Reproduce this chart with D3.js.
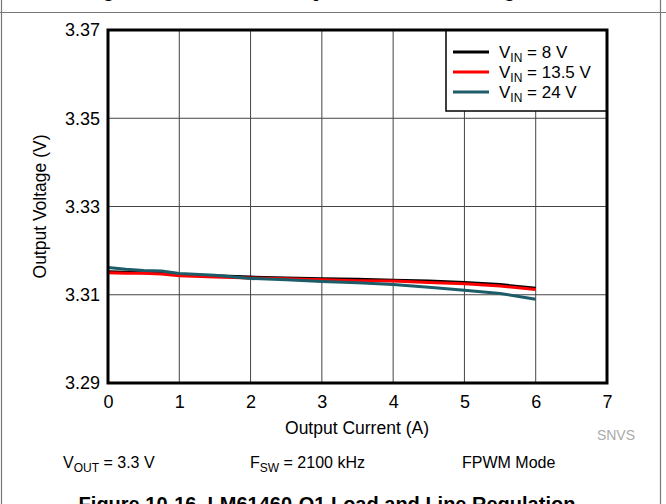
<!DOCTYPE html>
<html><head><meta charset="utf-8">
<script src="https://cdn.jsdelivr.net/npm/d3@7/dist/d3.min.js"></script>
<style>
body{margin:0;background:#fff;}
svg text{font-family:"Liberation Sans",Arial,Helvetica,sans-serif;}
</style></head>
<body><svg id="c" width="666" height="504"></svg>
<script>
const current = [0, 0.25, 0.5, 0.75, 1, 1.5, 2, 2.5, 3, 3.5, 4, 4.5, 5, 5.5, 6];
const vin8   = [3.3152,3.3151,3.3150,3.3149,3.3145,3.3143,3.3140,3.3138,3.3136,3.3135,3.3133,3.3131,3.3128,3.3123,3.3115];
const vin135 = [3.3150,3.3149,3.3149,3.3147,3.3143,3.3140,3.3138,3.3136,3.3134,3.3132,3.3131,3.3128,3.3125,3.3120,3.3112];
const vin24  = [3.3162,3.3158,3.3155,3.3154,3.3148,3.3144,3.3137,3.3134,3.3130,3.3127,3.3123,3.3117,3.3110,3.3103,3.3090];
const seriesNames = ["8 V", "13.5 V", "24 V"];
const seriesColors = ["#000000", "#ff0000", "#1d5c69"];
const xTicks = [0,1,2,3,4,5,6,7];
const yTicks = [3.29,3.31,3.33,3.35,3.37];

const svg = d3.select("#c");
const L=108, R=607, T=30, B=383;
const x = d3.scaleLinear().domain([0,7]).range([L,R]);
const y = d3.scaleLinear().domain([3.29,3.37]).range([B,T]);

// page frame
svg.append("line").attr("x1",1.5).attr("x2",1.5).attr("y1",0).attr("y2",504).attr("stroke","#777").attr("stroke-width",1.2);
svg.append("line").attr("x1",660.5).attr("x2",660.5).attr("y1",0).attr("y2",504).attr("stroke","#777").attr("stroke-width",1.2);
svg.append("line").attr("x1",0).attr("x2",666).attr("y1",12.5).attr("y2",12.5).attr("stroke","#777").attr("stroke-width",1.2);

// clipped previous caption (only descenders visible)
svg.append("text").attr("x",333).attr("y",-3).attr("text-anchor","middle")
  .attr("font-size",20).attr("font-weight","bold").text("Figure 10-15. LM61460-Q1 Load and Line Regulation");

// grid
const g = svg.append("g");
g.selectAll(".vg").data(xTicks.slice(1,-1)).join("line")
  .attr("x1",d=>x(d)).attr("x2",d=>x(d)).attr("y1",T).attr("y2",B)
  .attr("stroke","#444").attr("stroke-width",1);
g.selectAll(".hg").data(yTicks.slice(1,-1)).join("line")
  .attr("x1",L).attr("x2",R).attr("y1",d=>y(d)).attr("y2",d=>y(d))
  .attr("stroke","#444").attr("stroke-width",1);

// lines
const data = [vin8, vin135, vin24];
const line = d3.line().x((d,i)=>x(current[i])).y(d=>y(d));
data.forEach((s,k)=>{
  svg.append("path").datum(s).attr("d",line).attr("fill","none")
    .attr("stroke",seriesColors[k]).attr("stroke-width",3).attr("stroke-linejoin","round");
});

// legend
const lg = svg.append("g");
lg.append("rect").attr("x",446).attr("y",T).attr("width",R-446).attr("height",81)
  .attr("fill","#fff").attr("stroke","#000").attr("stroke-width",1.5);
seriesNames.forEach((n,k)=>{
  const yy = 52 + k*20;
  lg.append("line").attr("x1",453).attr("x2",489).attr("y1",yy).attr("y2",yy)
    .attr("stroke",seriesColors[k]).attr("stroke-width",3);
  const t = lg.append("text").attr("x",499).attr("y",yy+6).attr("font-size",17);
  t.append("tspan").text("V");
  t.append("tspan").attr("font-size",12).attr("dy",4).text("IN");
  t.append("tspan").attr("dy",-4).text(" = " + n);
});

// plot border
svg.append("rect").attr("x",L).attr("y",T).attr("width",R-L).attr("height",B-T)
  .attr("fill","none").attr("stroke","#000").attr("stroke-width",3);

// axes labels
const xa = d3.axisBottom(x).tickValues(xTicks).tickSize(0).tickPadding(12).tickFormat(d3.format("d"));
const xg = svg.append("g").attr("transform",`translate(0,${B})`).call(xa);
xg.select(".domain").remove();
xg.selectAll("text").attr("font-size",18).attr("fill","#000").attr("font-family","Liberation Sans, Arial, sans-serif");
const ya = d3.axisLeft(y).tickValues(yTicks).tickSize(0).tickPadding(8).tickFormat(d3.format(".2f"));
const yg = svg.append("g").attr("transform",`translate(${L},0)`).call(ya);
yg.select(".domain").remove();
yg.selectAll("text").attr("font-size",18).attr("fill","#000").attr("font-family","Liberation Sans, Arial, sans-serif");

svg.append("text").attr("x",357).attr("y",434).attr("text-anchor","middle").attr("font-size",17.5).text("Output Current (A)");
svg.append("text").attr("transform",`translate(46,${(T+B)/2}) rotate(-90)`).attr("text-anchor","middle").attr("font-size",17.5).text("Output Voltage (V)");

svg.append("text").attr("x",635).attr("y",440).attr("text-anchor","end").attr("font-size",14).attr("fill","#aaa").text("SNVS");

// conditions
function sub(xx, main, s, rest){
  const t = svg.append("text").attr("x",xx).attr("y",468).attr("font-size",16);
  t.append("tspan").text(main);
  t.append("tspan").attr("font-size",12).attr("dy",4).text(s);
  t.append("tspan").attr("dy",-4).text(rest);
}
sub(63,"V","OUT"," = 3.3 V");
sub(250,"F","SW"," = 2100 kHz");
svg.append("text").attr("x",462).attr("y",468).attr("font-size",16).text("FPWM Mode");

svg.append("text").attr("x",327).attr("y",511).attr("text-anchor","middle")
  .attr("font-size",20).attr("font-weight","bold").text("Figure 10-16. LM61460-Q1 Load and Line Regulation");
</script></body></html>
